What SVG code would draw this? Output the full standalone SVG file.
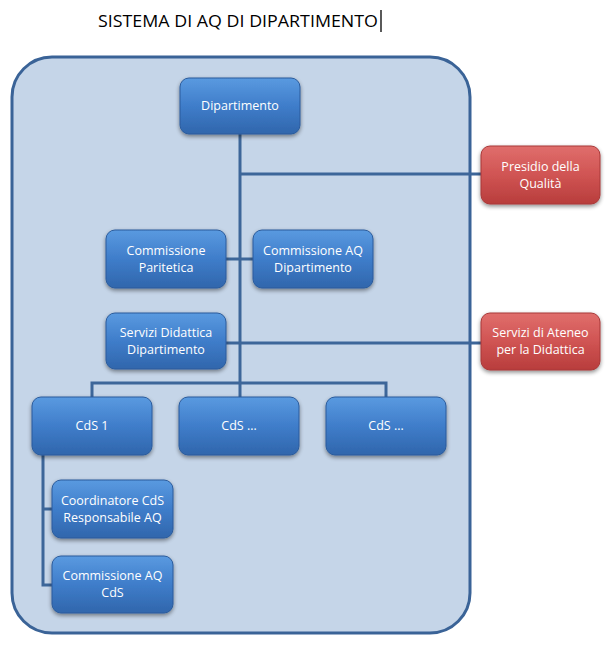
<svg xmlns="http://www.w3.org/2000/svg" width="610" height="650" viewBox="0 0 610 650">
<defs>
<linearGradient id="gb" x1="0" y1="0" x2="0" y2="1">
<stop offset="0" stop-color="#5a9ae0"/>
<stop offset="0.5" stop-color="#3f7dca"/>
<stop offset="1" stop-color="#3066ac"/>
</linearGradient>
<linearGradient id="gr" x1="0" y1="0" x2="0" y2="1">
<stop offset="0" stop-color="#e06e6c"/>
<stop offset="0.5" stop-color="#d05453"/>
<stop offset="1" stop-color="#b83d3c"/>
</linearGradient>
<filter id="sh" x="-20%" y="-20%" width="140%" height="150%">
<feGaussianBlur in="SourceAlpha" stdDeviation="2"/>
<feOffset dx="0" dy="2" result="b"/>
<feComponentTransfer><feFuncA type="linear" slope="0.45"/></feComponentTransfer>
<feMerge><feMergeNode/><feMergeNode in="SourceGraphic"/></feMerge>
</filter>
</defs>
<style>
.b{fill:url(#gb);stroke:#2a5b9c;stroke-width:1;filter:url(#sh)}
.r{fill:url(#gr);stroke:#a83838;stroke-width:1;filter:url(#sh)}
.t{font-family:"Open Sans","Liberation Sans",sans-serif;font-size:12.5px;fill:#ffffff;text-anchor:middle}
.c{fill:none;stroke:#3d6699;stroke-width:3}
</style>
<rect width="610" height="650" fill="#ffffff"/>
<text x="98" y="27" font-family="'Open Sans','Liberation Sans',sans-serif" font-size="17" fill="#000" textLength="280" lengthAdjust="spacingAndGlyphs">SISTEMA DI AQ DI DIPARTIMENTO</text>
<line x1="381" y1="10" x2="381" y2="32" stroke="#000" stroke-width="1.3"/>
<rect id="container" x="12" y="57" width="458" height="576" rx="40" ry="40" fill="#c5d5e8" stroke="#3a6397" stroke-width="3"/>
<g id="connectors">
<path class="c" d="M240 134 V383"/>
<path class="c" d="M240 174 H481"/>
<path class="c" d="M226 259 H253"/>
<path class="c" d="M226 343 H481"/>
<path class="c" d="M92 397 V383 H386 V397 M240 383 V397"/>
<path class="c" d="M43 455 V585 H52 M43 509 H52"/>
</g>
<g id="n-dipartimento"><rect class="b" x="180" y="78" width="120" height="56" rx="9"/><text class="t" x="240" y="110">Dipartimento</text></g>
<g id="n-presidio"><rect class="r" x="481" y="146" width="119" height="58" rx="9"/><text class="t" x="540.5" y="170.5">Presidio della</text><text class="t" x="540.5" y="187.5">Qualità</text></g>
<g id="n-paritetica"><rect class="b" x="106" y="230" width="120" height="58" rx="9"/><text class="t" x="166" y="254.5">Commissione</text><text class="t" x="166" y="271.5">Paritetica</text></g>
<g id="n-aqdip"><rect class="b" x="253" y="230" width="120" height="58" rx="9"/><text class="t" x="313" y="254.5">Commissione AQ</text><text class="t" x="313" y="271.5">Dipartimento</text></g>
<g id="n-servizi"><rect class="b" x="106" y="313" width="120" height="56" rx="9"/><text class="t" x="166" y="336.5">Servizi Didattica</text><text class="t" x="166" y="353.5">Dipartimento</text></g>
<g id="n-ateneo"><rect class="r" x="481" y="313" width="119" height="57" rx="9"/><text class="t" x="540.5" y="336.5">Servizi di Ateneo</text><text class="t" x="540.5" y="353.5">per la Didattica</text></g>
<g id="n-cds1"><rect class="b" x="32" y="397" width="120" height="58" rx="9"/><text class="t" x="92" y="430">CdS 1</text></g>
<g id="n-cds2"><rect class="b" x="179" y="397" width="120" height="58" rx="9"/><text class="t" x="239" y="430">CdS …</text></g>
<g id="n-cds3"><rect class="b" x="326" y="397" width="120" height="58" rx="9"/><text class="t" x="386" y="430">CdS …</text></g>
<g id="n-coord"><rect class="b" x="52" y="480" width="121" height="58" rx="9"/><text class="t" x="112.5" y="504.5">Coordinatore CdS</text><text class="t" x="112.5" y="521.5">Responsabile AQ</text></g>
<g id="n-aqcds"><rect class="b" x="52" y="556" width="121" height="57" rx="9"/><text class="t" x="112.5" y="579.5">Commissione AQ</text><text class="t" x="112.5" y="596.5">CdS</text></g>
</svg>
